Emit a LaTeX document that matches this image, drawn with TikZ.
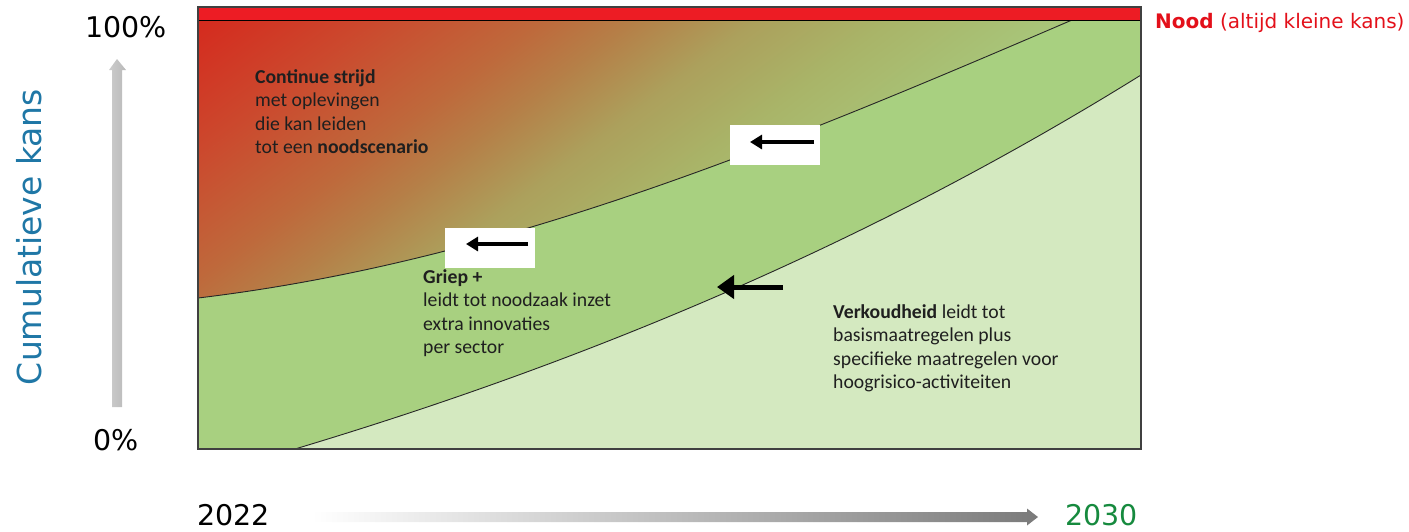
\documentclass[tikz,border=0pt]{standalone}
\usepackage{fontspec}
\setmainfont{Carlito}
\newfontfamily\vfont{DejaVu Sans}
\usetikzlibrary{arrows.meta}
\definecolor{noodred}{HTML}{ED1C24}
\definecolor{midgreen}{HTML}{A8D080}
\definecolor{lightgreen}{HTML}{D4E9C0}
\definecolor{axisblue}{HTML}{1F77A6}
\definecolor{yeargreen}{HTML}{168A3E}
\definecolor{labelred}{HTML}{E3101A}
\definecolor{gA}{HTML}{D52A1E}
\definecolor{gB}{HTML}{CB4A2E}
\definecolor{gC}{HTML}{BE6A3C}
\definecolor{gD}{HTML}{B58048}
\definecolor{gE}{HTML}{ACA05C}
\definecolor{gF}{HTML}{A9B468}
\definecolor{gG}{HTML}{A8C478}
\definecolor{gH}{HTML}{A8CE7F}
\newcommand\blocktext[1]{\fontsize{19.7}{23.5}\selectfont\begin{tabular}[t]{@{}l@{}}#1\end{tabular}}
\tikzset{
  border/.style={draw=black!75, line width=1.4pt},
  boundary/.style={draw=black!85, line width=0.9pt},
  whitebox/.style={fill=white, draw=none, inner sep=0pt, minimum width=90pt, minimum height=40pt},
  fatarrow/.style={line width=4.5pt, -{Triangle[length=12pt,width=14pt]}, black},
  bigarrow/.style={line width=5pt, -{Triangle[length=17pt,width=23pt]}, black},
  blocklabel/.style={anchor=base west, inner sep=0pt, text=black!88},
  vlabel/.style={font=\vfont\fontsize{28.5}{30}\selectfont, inner sep=0pt, anchor=base west},
}
\begin{document}
\begin{tikzpicture}[x=1pt,y=-1pt]
\useasboundingbox (0,0) rectangle (1409,531);
% base green
\fill[midgreen] (198,20) rectangle (1141,449);
% top gradient region
\begin{scope}
  \clip (198,20) -- (1072,20) .. controls (772,149) and (498,262) .. (198,298) -- cycle;
  \begin{scope}[transform canvas={shift={(198,20)},rotate=-53}]
    \fill[gA] (-400,-1400) rectangle (0.5,1400);
    \shade[left color=gA,right color=gB] (0,-1400) rectangle (110.5,1400);
    \shade[left color=gB,right color=gC] (110,-1400) rectangle (210.5,1400);
    \shade[left color=gC,right color=gD] (210,-1400) rectangle (265.5,1400);
    \shade[left color=gD,right color=gE] (265,-1400) rectangle (335.5,1400);
    \shade[left color=gE,right color=gF] (335,-1400) rectangle (415.5,1400);
    \shade[left color=gF,right color=gG] (415,-1400) rectangle (510.5,1400);
    \shade[left color=gG,right color=gH] (510,-1400) rectangle (590.5,1400);
    \fill[gH] (590,-1400) rectangle (1800,1400);
  \end{scope}
\end{scope}
% lower region
\filldraw[fill=lightgreen, boundary] (295,449) .. controls (575,365) and (861,249) .. (1141,75) -- (1141,449) -- cycle;
% upper boundary
\draw[boundary] (198,298) .. controls (498,262) and (772,149) .. (1072,20);
% red band
\fill[noodred] (198,7) rectangle (1141,20);
\draw[black, line width=1pt] (198,20) -- (1141,20);
\draw[border] (198,7) rectangle (1141,449);
% white boxes and arrows
\node[whitebox] (box1) at (775,145) {};
\node[whitebox] (box2) at (490,248) {};
\coordinate (a1tail) at (814,142);
\coordinate (a1tip) at (750,142);
\coordinate (a2tail) at (528,244);
\coordinate (a2tip) at (466,244);
\coordinate (a3tail) at (783,287);
\coordinate (a3tip) at (717,287);
\draw[fatarrow] (a1tail) -- (a1tip);
\draw[fatarrow] (a2tail) -- (a2tip);
\draw[bigarrow] (a3tail) -- (a3tip);
% text blocks
\node[blocklabel] (cont) at (255,83) {\blocktext{\textbf{Continue strijd}\\met oplevingen\\die kan leiden\\tot een \textbf{noodscenario}}};
\node[blocklabel] (griep) at (423,283) {\blocktext{\textbf{Griep +}\\leidt tot noodzaak inzet\\extra innovaties\\per sector}};
\node[blocklabel] (verk) at (833,318) {\blocktext{\textbf{Verkoudheid} leidt tot\\basismaatregelen plus\\specifieke maatregelen voor\\hoogrisico-activiteiten}};
% labels
\node[anchor=base west, inner sep=0pt, text=labelred, font=\vfont\fontsize{20}{22}\selectfont] (nood) at (1155,28) {\textbf{Nood} (altijd kleine kans)};
\node[vlabel] (p100) at (85,37) {100\%};
\node[vlabel] (p0) at (93,450) {0\%};
\node[vlabel] (y2022) at (197,525) {2022};
\node[vlabel, text=yeargreen] (y2030) at (1065,525) {2030};
\node[rotate=90, inner sep=0pt, text=axisblue, font=\vfont\fontsize{33}{36}\selectfont] (ylab) at (29,237) {Cumulatieve kans};
% vertical axis arrow
\shade[left color=gray!40, middle color=gray!8, right color=gray!55] (112,407) -- (112,70) -- (109,70) -- (117,59) -- (126,70) -- (122,70) -- (122,407) -- cycle;
% horizontal time arrow
\shade[left color=white, right color=black!52] (312,512) -- (1027,512) -- (1027,508.5) -- (1038,517) -- (1027,525.5) -- (1027,522) -- (312,522) -- cycle;
\end{tikzpicture}
\end{document}
